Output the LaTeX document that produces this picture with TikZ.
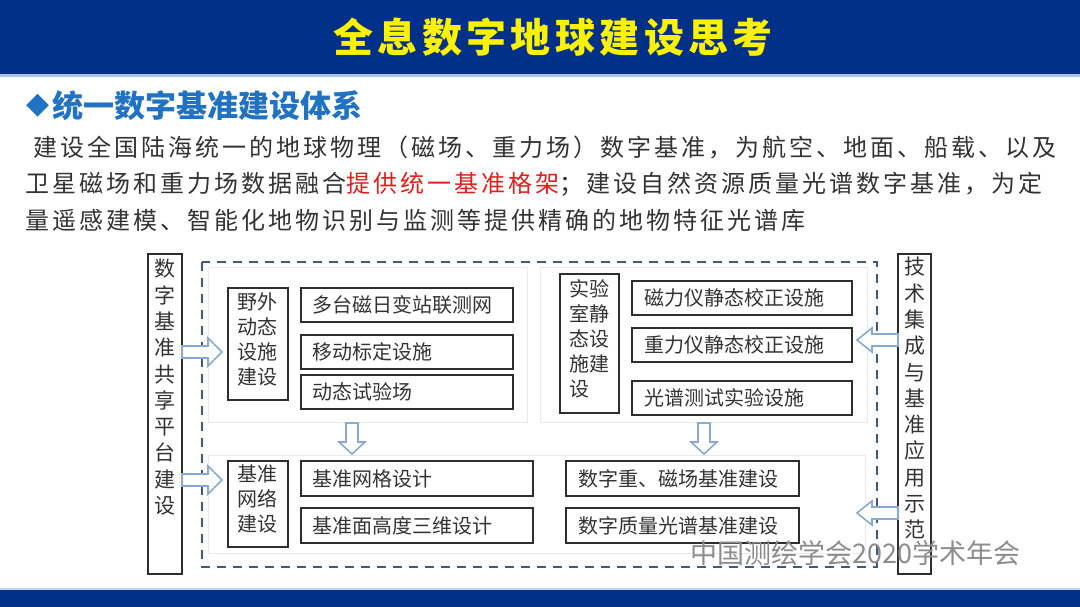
\documentclass[tikz,border=0pt]{standalone}
\usepackage{fontspec}
\setmainfont{Noto Sans CJK SC}
\newfontfamily\cjk{Noto Sans CJK SC}
\newfontfamily\cjkls[LetterSpace=12.5]{Noto Sans CJK SC}
\newfontfamily\cjkt[LetterSpace=11]{Noto Sans CJK SC}
\newfontfamily\symf{DejaVu Sans}
\definecolor{barblue}{HTML}{003087}
\definecolor{headblue}{HTML}{2272C3}
\definecolor{txtgray}{HTML}{333333}
\definecolor{dashblue}{HTML}{3E5A82}
\definecolor{arrblue}{HTML}{86A9D8}
\definecolor{panelline}{HTML}{E6EAF0}
\definecolor{accred}{HTML}{E0201E}
\tikzset{
  itembox/.style={draw=txtgray!90!black, line width=1.1pt, fill=white},
  itemtext/.style={text=txtgray, font=\cjk\fontsize{20}{24}\selectfont, anchor=west},
  vtext/.style={text=txtgray, font=\cjk\fontsize{20}{25}\selectfont, align=left, inner sep=0pt},
  sidebox/.style={draw=txtgray!90!black, line width=1.1pt, fill=white},
  sidetext/.style={text=txtgray, font=\cjk\fontsize{21}{26.3}\selectfont, align=center, inner sep=0pt},
  panel/.style={draw=panelline, line width=0.8pt, fill=white},
  blockarr/.style={draw=arrblue, line width=1.6pt, fill=white, line join=miter},
  outerdash/.style={draw=dashblue, line width=2pt, dash pattern=on 9pt off 7pt},
}
% #1 start point, #2 rotation, #3 length, #4 shaft half width, #5 head half width, #6 head length
\newcommand{\blockarrow}[6]{%
  \draw[blockarr, shift={#1}, rotate=#2] (0,-#4) -- ({#3-#6},-#4) -- ({#3-#6},-#5) -- (#3,0)
     -- ({#3-#6},#5) -- ({#3-#6},#4) -- (0,#4) -- cycle;}
\begin{document}
\begin{tikzpicture}[x=1pt, y=-1pt]
\useasboundingbox (0,0) rectangle (1080,607);
\fill[white] (0,0) rectangle (1080,607);
% top bar
\fill[barblue] (0,0) rectangle (1080,74);
\fill[arrblue!70] (0,74) rectangle (1080,77);
\node[text=yellow, font=\cjkt\bfseries\fontsize{40}{44}\selectfont, inner sep=0pt] (title) at (553,37) {全息数字地球建设思考};
% bottom bar
\fill[arrblue!50] (0,588) rectangle (1080,590);
\fill[barblue] (0,590) rectangle (1080,607);
% heading
\node[anchor=west, inner sep=0pt, text=headblue, font=\symf\fontsize{30}{34}\selectfont] (dia) at (26,106) {◆};
\node[anchor=west, inner sep=0pt, text=headblue, font=\cjk\bfseries\fontsize{31}{36}\selectfont] (head) at (52,106) {统一数字基准建设体系};
% body text
\node[anchor=west, inner sep=0pt, text=txtgray, font=\cjkls\fontsize{24}{28}\selectfont] (l1) at (33,148) {建设全国陆海统一的地球物理（磁场、重力场）数字基准，为航空、地面、船载、以及};
\node[anchor=west, inner sep=0pt, text=txtgray, font=\cjkls\fontsize{24}{28}\selectfont] (l2) at (25,184) {卫星磁场和重力场数据融合\textcolor{accred}{提供统一基准格架}；建设自然资源质量光谱数字基准，为定};
\node[anchor=west, inner sep=0pt, text=txtgray, font=\cjkls\fontsize{24}{28}\selectfont] (l3) at (25,220) {量遥感建模、智能化地物识别与监测等提供精确的地物特征光谱库};
% side boxes
\draw[sidebox] (148,254) rectangle (182,574);
\node[sidetext, anchor=north] (ls) at (165,259) {数\\字\\基\\准\\共\\享\\平\\台\\建\\设};
\draw[sidebox] (898,254) rectangle (931,574);
\node[sidetext, anchor=north] (rs) at (914.5,257) {技\\术\\集\\成\\与\\基\\准\\应\\用\\示\\范};
% outer dashed frame
\draw[outerdash] (202,262) rectangle (877,567);
% panels
\draw[panel] (208,267) rectangle (527,422);
\draw[panel] (540,267) rectangle (867,422);
\draw[panel] (208,455) rectangle (865,553);
% top-left group
\draw[itembox] (228,288) rectangle (288,400);
\node[vtext, anchor=north west] (ye) at (237,292) {野外\\动态\\设施\\建设};
\draw[itembox] (301,288) rectangle (513,322);
\node[itemtext] (a1) at (309,305) {多台磁日变站联测网};
\draw[itembox] (301,335) rectangle (513,369);
\node[itemtext] (a2) at (309,352) {移动标定设施};
\draw[itembox] (301,375) rectangle (513,409);
\node[itemtext] (a3) at (309,392) {动态试验场};
% top-right group
\draw[itembox] (560,274) rectangle (619,413);
\node[vtext, anchor=north west] (sy) at (569,279) {实验\\室静\\态设\\施建\\设};
\draw[itembox] (632,281) rectangle (852,315);
\node[itemtext] (b1) at (641,298) {磁力仪静态校正设施};
\draw[itembox] (632,328) rectangle (852,362);
\node[itemtext] (b2) at (641,345) {重力仪静态校正设施};
\draw[itembox] (632,381) rectangle (852,415);
\node[itemtext] (b3) at (641,398) {光谱测试实验设施};
% bottom group
\draw[itembox] (228,461) rectangle (288,547);
\node[vtext, anchor=north west] (jz) at (237,464) {基准\\网络\\建设};
\draw[itembox] (301,461) rectangle (533,496);
\node[itemtext] (c1) at (309,478.5) {基准网格设计};
\draw[itembox] (301,508) rectangle (533,543);
\node[itemtext] (c2) at (309,525.5) {基准面高度三维设计};
\draw[itembox] (566,461) rectangle (799,496);
\node[itemtext] (d1) at (575,478.5) {数字重、磁场基准建设};
\draw[itembox] (566,508) rectangle (799,543);
\node[itemtext] (d2) at (575,525.5) {数字质量光谱基准建设};
% block arrows
\blockarrow{(182,352)}{0}{40}{6}{14}{14}
\blockarrow{(182,480)}{0}{40}{6}{14}{14}
\blockarrow{(898,340)}{180}{41}{6}{12}{15}
\blockarrow{(898,513)}{180}{41}{6}{12}{15}
\blockarrow{(352,423)}{-90}{31}{6}{13}{12}
\blockarrow{(704,423)}{-90}{31}{6}{13}{12}
% watermark
\node[anchor=west, inner sep=0pt, text=black!45, font=\cjk\fontsize{27}{30}\selectfont] (wm) at (690,553) {中国测绘学会2020学术年会};
\end{tikzpicture}
\end{document}
